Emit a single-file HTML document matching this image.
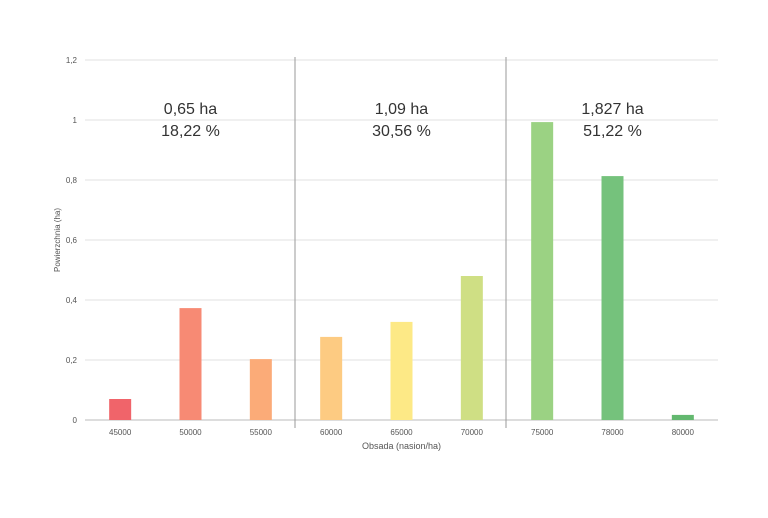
<!DOCTYPE html>
<html><head><meta charset="utf-8"><style>
body{margin:0;background:#fff;width:768px;height:513px;overflow:hidden;font-family:"Liberation Sans",sans-serif}
</style></head><body>
<svg id="chart" width="768" height="513" xmlns="http://www.w3.org/2000/svg"></svg>
<script>
const categories=["45000","50000","55000","60000","65000","70000","75000","78000","80000"];
const values=[0.07,0.373,0.203,0.277,0.327,0.48,0.993,0.813,0.017];
const colors=["#f0646a","#f78a74","#fbab78","#fdcb82","#fde986","#cfdf84","#9bd283","#75c27c","#63b86f"];
const yTicks=[0,0.2,0.4,0.6,0.8,1,1.2];
const yTickLabels=["0","0,2","0,4","0,6","0,8","1","1,2"];
const groupLabels=[["0,65 ha","18,22 %"],["1,09 ha","30,56 %"],["1,827 ha","51,22 %"]];
const ns="http://www.w3.org/2000/svg",svg=document.getElementById("chart");
const x0=85,x1=718,yBase=420,yTop=60,maxV=1.2;
const bandW=(x1-x0)/categories.length;
function y(v){return yBase-(v/maxV)*(yBase-yTop);}
function xc(i){return x0+bandW*(i+0.5);}
function mk(t,a,txt){const e=document.createElementNS(ns,t);for(const k in a)e.setAttribute(k,a[k]);if(txt!==undefined)e.textContent=txt;svg.appendChild(e);return e;}
yTicks.forEach((t,i)=>{
 const g=mk("line",{x1:x0,x2:x1,y1:y(t),y2:y(t),stroke:i==0?"#bbb":"#e2e2e2","stroke-width":1});
 
 
 const l=mk("text",{x:x0-8,y:y(t)+3,"text-anchor":"end","font-size":8,fill:"#555"},yTickLabels[i]);
 
 
});
categories.forEach((c,i)=>{
 const b=mk("rect",{x:xc(i)-11,y:y(values[i]),width:22,height:yBase-y(values[i]),fill:colors[i]});
 
 
 const l=mk("text",{x:xc(i),y:yBase+15,"text-anchor":"middle","font-size":8,fill:"#555"},c);
 
 
});
[3,6].forEach(k=>{
 const s=mk("line",{x1:x0+bandW*k-1,x2:x0+bandW*k-1,y1:57,y2:428,stroke:"#999","stroke-width":1});
 
 
});
groupLabels.forEach((g,i)=>{
 const cx=xc(i*3+1);
 const a=mk("text",{x:cx,y:114,"text-anchor":"middle","font-size":16,fill:"#333"},g[0]);
 
 
 const b=mk("text",{x:cx,y:136,"text-anchor":"middle","font-size":16,fill:"#333"},g[1]);
 
 
});
const xt=mk("text",{x:(x0+x1)/2,y:449,"text-anchor":"middle","font-size":9,fill:"#555"},"Obsada (nasion/ha)");


const yt=mk("text",{x:0,y:0,"text-anchor":"middle","font-size":8,fill:"#555",transform:"translate(60,240) rotate(-90)"},"Powierzchnia (ha)");


</script>
</body></html>
